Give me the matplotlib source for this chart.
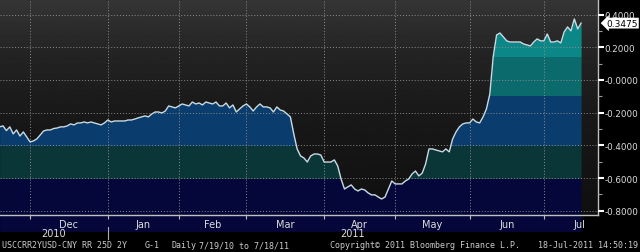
import numpy as np
import matplotlib.pyplot as plt
from matplotlib.patches import Rectangle
from matplotlib.transforms import blended_transform_factory

# USD-CNY 25D risk reversal 2Y, daily closes from 18-Nov-2010
start = "2010-11-18"
rr25 = [
    -0.287, -0.281, -0.310, -0.287, -0.330, -0.306, -0.343, -0.318, -0.349,
    -0.379, -0.373, -0.361, -0.336, -0.312, -0.306, -0.306, -0.297, -0.294, -0.287,
    -0.287, -0.281, -0.269, -0.275, -0.263, -0.263, -0.257, -0.263, -0.257, -0.263,
    -0.269, -0.275, -0.263, -0.245,
    -0.257, -0.251, -0.251, -0.251, -0.251, -0.245, -0.245, -0.239, -0.232, -0.226,
    -0.220, -0.226, -0.208, -0.196, -0.196, -0.202, -0.190, -0.159, -0.165, -0.171,
    -0.159, -0.147, -0.153, -0.159, -0.135, -0.147, -0.141, -0.153, -0.135,
    -0.141, -0.147, -0.135, -0.159, -0.159, -0.141, -0.171, -0.153, -0.196, -0.177,
    -0.159, -0.147, -0.165, -0.190, -0.165, -0.147, -0.165, -0.165, -0.171, -0.196,
    -0.165, -0.184, -0.190, -0.208, -0.226, -0.330,
    -0.422, -0.465, -0.477, -0.502, -0.465, -0.453, -0.453, -0.459, -0.502, -0.502,
    -0.502, -0.489, -0.526, -0.606, -0.667, -0.654, -0.642, -0.667, -0.679, -0.667,
    -0.673, -0.691, -0.703, -0.703, -0.716, -0.728, -0.716, -0.667, -0.618,
    -0.636, -0.636, -0.636, -0.618, -0.606, -0.575, -0.557, -0.587, -0.570, -0.514,
    -0.422, -0.422, -0.428, -0.434, -0.440, -0.422, -0.440, -0.361, -0.318, -0.287,
    -0.269, -0.263, -0.263, -0.239, -0.257, -0.263, -0.226, -0.177, -0.086,
    0.141, 0.275, 0.287, 0.263, 0.239, 0.232, 0.232, 0.232, 0.232, 0.220,
    0.214, 0.208, 0.232, 0.251, 0.239, 0.239, 0.281, 0.232, 0.232, 0.239,
    0.226, 0.294, 0.324, 0.300, 0.373, 0.312, 0.3475,
]
months = ["Dec", "Jan", "Feb", "Mar", "Apr", "May", "Jun", "Jul"]
month_starts = ["2010-12-01", "2011-01-01", "2011-02-01", "2011-03-01", "2011-04-01",
                "2011-05-01", "2011-06-01", "2011-07-01", "2011-08-01"]
years = ["2010", "2011"]
year_start = "2011-01-01"
y_ticks = [-0.8, -0.6, -0.4, -0.2, 0.0, 0.2, 0.4]
y_tick_labels = ["-0.8000", "-0.6000", "-0.4000", "-0.2000", "-0.0000", "0.2000", "0.4000"]
y_minor = [-0.7, -0.5, -0.3, -0.1, 0.1, 0.3]
last_label = "0.3475"

# colour bands of the area fill
bands = [(-1.0, -0.6, "#05073a"), (-0.6, -0.4, "#0b3638"), (-0.4, -0.09, "#0b3c6e"),
         (-0.09, 0.148, "#0b6a6c"), (0.148, 1.0, "#0b8787")]

x = np.arange(len(rr25))
y = np.array(rr25)
ms = [int(np.busday_count(start, d)) for d in month_starts]
ys = int(np.busday_count(start, year_start))

fig = plt.figure(figsize=(6.4, 2.53), dpi=100, facecolor="black")
ax = fig.add_axes([0, 1 - 216 / 253, 598 / 640, 216 / 253])
ax.set_facecolor("black")

# dark background, lighter towards the top
g = np.interp(np.linspace(0, 1, 256), [0, 0.5, 0.75, 1.0], [0.06, 0.10, 0.14, 0.21])
ax.imshow(g.reshape(-1, 1), cmap="gray", vmin=0, vmax=1, extent=[0, 1, 0, 1],
          transform=ax.transAxes, aspect="auto", origin="lower", zorder=0)

xmin, xmax = 0.1, 177
ymin, ymax = -0.826, 0.495
for lo, hi, c in bands:
    poly = ax.fill_between(x, ymin - 0.1, y, color=c, lw=0, zorder=1)
    poly.set_clip_path(Rectangle((xmin - 5, lo), xmax - xmin + 10, hi - lo, transform=ax.transData))
ax.plot(x, y, color="#c8dce4", lw=1.0, zorder=3)

ax.set_xlim(xmin, xmax)
ax.set_ylim(ymin, ymax)

# grid + ticks
ax.set_axisbelow(False)
ax.set_xticks(ms[:-1])
ax.set_xticklabels([])
centers = [(ms[i] + ms[i + 1]) / 2 for i in range(len(months))]
ax.set_xticks(centers, minor=True)
ax.set_xticklabels(months, minor=True)
ax.tick_params(axis="x", which="major", length=3, color="#bbbbbb", direction="out")
ax.tick_params(axis="x", which="minor", length=0, pad=3, labelsize=7, labelcolor="#dddddd")
ax.yaxis.tick_right()
ax.set_yticks(y_ticks, y_tick_labels)
ax.set_yticks(y_minor, minor=True)
ax.tick_params(axis="y", which="major", length=4, width=1.5, color="white", pad=0.5,
               labelsize=6.3, labelcolor="#dddddd")
ax.tick_params(axis="y", which="minor", length=3, width=0.8, color="#999999")
ax.grid(True, which="major", color="#8c8c8c", ls=(0, (1, 2)), lw=0.7)

for s in ["top", "left"]:
    ax.spines[s].set_visible(False)
for s in ["bottom", "right"]:
    ax.spines[s].set_color("#c0c0c0")
    ax.spines[s].set_linewidth(1)

# year row
tr = blended_transform_factory(ax.transData, ax.transAxes)
ax.text((xmin + ys) / 2, -0.083, years[0], transform=tr, ha="center", va="center",
        fontsize=7, color="#dddddd")
ax.text((ys + xmax) / 2, -0.083, years[1], transform=tr, ha="center", va="center",
        fontsize=7, color="#dddddd")
ax.plot([ys, ys], [-0.055, -0.11], transform=tr, color="#aaaaaa", lw=0.8, clip_on=False)

# last value tag
tr2 = blended_transform_factory(ax.transAxes, ax.transData)
ax.text(1.014, y[-1], last_label, transform=tr2, ha="left", va="center", fontsize=6.5,
        color="black", bbox=dict(boxstyle="larrow,pad=0.1", fc="white", ec="none"),
        clip_on=False, zorder=10)

# footer
foot = dict(fontsize=6, color="#cccccc", family="DejaVu Sans Mono", va="center")
fy = 1 - 246 / 253
fig.text(2 / 640, fy, "USCCRR2YUSD-CNY RR 25D 2Y", ha="left", **foot)
fig.text(145 / 640, fy, "G-1", ha="left", **foot)
fig.text(171 / 640, fy, "Daily", ha="left", **foot)
fig.text(199 / 640, fy, "7/19/10 to 7/18/11", ha="left", **foot)
fig.text(330 / 640, fy, "Copyright\u00a9 2011 Bloomberg Finance L.P.", ha="left", **foot)
fig.text(638 / 640, fy, "18-Jul-2011 14:50:19", ha="right", **foot)

fig.savefig("out.png", dpi=100, facecolor="black")
